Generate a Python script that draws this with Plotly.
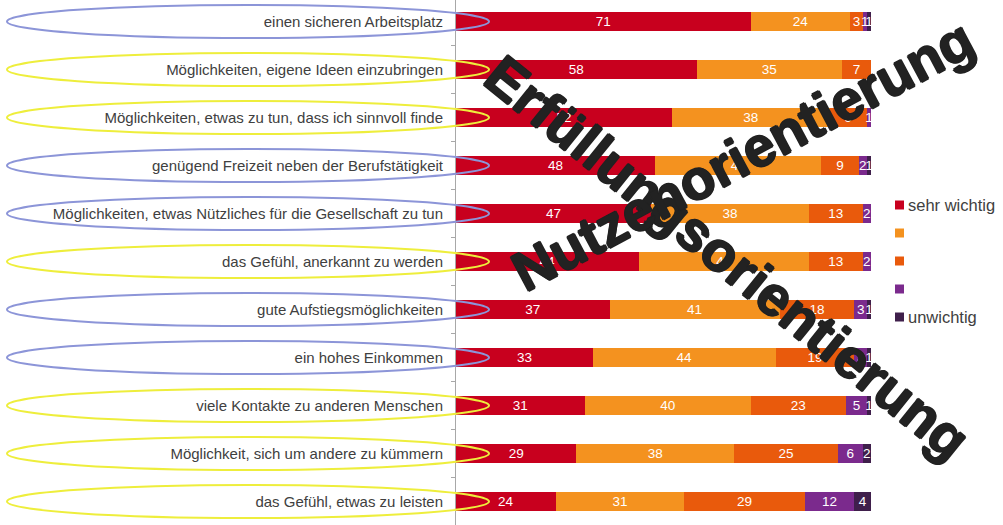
import plotly.graph_objects as go

# --- data -------------------------------------------------------------
categories = [
    "einen sicheren Arbeitsplatz",
    "Möglichkeiten, eigene Ideen einzubringen",
    "Möglichkeiten, etwas zu tun, dass ich sinnvoll finde",
    "genügend Freizeit neben der Berufstätigkeit",
    "Möglichkeiten, etwas Nützliches für die Gesellschaft zu tun",
    "das Gefühl, anerkannt zu werden",
    "gute Aufstiegsmöglichkeiten",
    "ein hohes Einkommen",
    "viele Kontakte zu anderen Menschen",
    "Möglichkeit, sich um andere zu kümmern",
    "das Gefühl, etwas zu leisten",
]
sehr_wichtig = [71, 58, 52, 48, 47, 44, 37, 33, 31, 29, 24]
stufe_2 = [24, 35, 38, 40, 38, 41, 41, 44, 40, 38, 31]
stufe_3 = [3, 7, 9, 9, 13, 13, 18, 19, 23, 25, 29]
stufe_4 = [1, 0, 1, 2, 2, 2, 3, 3, 5, 6, 12]
unwichtig = [1, 0, 0, 1, 0, 0, 1, 1, 1, 2, 4]

legend_labels = ["sehr wichtig", "", "", "", "unwichtig"]
series = [sehr_wichtig, stufe_2, stufe_3, stufe_4, unwichtig]
colors = ["#c8001e", "#f4921f", "#e95a0c", "#7b2a8d", "#3f1f4b"]

# which orientation each item belongs to (ellipse colour)
orientierung = ["Nutzen", "Erfüllung", "Erfüllung", "Nutzen", "Nutzen", "Erfüllung",
                "Nutzen", "Nutzen", "Erfüllung", "Erfüllung", "Erfüllung"]
ellipse_colors = {"Nutzen": "#8c95d8", "Erfüllung": "#eeee3c"}

overlay_titles = ["Erfüllungsorientierung", "Nutzenorientierung"]

# --- layout geometry (pixels) -----------------------------------------
W, H = 1003, 525
PLOT_L, PLOT_R = 456, 871
ROW0, ROW_STEP = 21.5, 48.0


def px_x(px):
    return (px - PLOT_L) / (PLOT_R - PLOT_L)


def px_y(py):
    return 1 - py / H


fig = go.Figure()
for name, vals, col in zip(legend_labels, series, colors):
    fig.add_trace(go.Bar(
        y=categories, x=vals, orientation="h", name=name,
        marker=dict(color=col, line=dict(width=0)),
        text=[str(v) if v > 0 else "" for v in vals],
        textposition="inside", insidetextanchor="middle",
        textangle=0, constraintext="none",
        textfont=dict(color="#ffffff", size=13.5, family="Liberation Sans, Arial"),
        showlegend=False,
    ))

shapes = []
annotations = []

# ellipses around the item labels
for i, grp in enumerate(orientierung):
    shapes.append(dict(
        type="circle", xref="paper", yref="y",
        x0=px_x(7), x1=px_x(489),
        y0=i - 16.5 / ROW_STEP, y1=i + 16.5 / ROW_STEP,
        line=dict(color=ellipse_colors[grp], width=2),
        layer="above",
    ))

# legend: small squares with labels
for k, (lab, col) in enumerate(zip(legend_labels, colors)):
    cy = 205 + 28 * k
    shapes.append(dict(
        type="rect", xref="paper", yref="paper",
        x0=px_x(895), x1=px_x(904), y0=px_y(cy + 4.5), y1=px_y(cy - 4.5),
        fillcolor=col, line=dict(width=0),
    ))
    if lab:
        annotations.append(dict(
            xref="paper", yref="paper", x=px_x(906), y=px_y(cy),
            xanchor="left", yanchor="middle", text=lab, showarrow=False,
            font=dict(size=16.5, color="#404040", family="Liberation Sans, Arial"),
        ))

# large diagonal overlay titles (extra outline for a heavier stroke)
heavy = ("1px 0 0 #222222, -1px 0 0 #222222, 0 1px 0 #222222, "
         "0 -1px 0 #222222")
annotations.append(dict(
    xref="paper", yref="paper", x=px_x(728), y=px_y(257),
    xanchor="center", yanchor="middle", text=overlay_titles[0], showarrow=False,
    textangle=39,
    font=dict(size=56, color="#222222", family="Liberation Sans, Arial",
              weight="bold", shadow=heavy),
))
annotations.append(dict(
    xref="paper", yref="paper", x=px_x(742), y=px_y(155),
    xanchor="center", yanchor="middle", text=overlay_titles[1], showarrow=False,
    textangle=-28,
    font=dict(size=56, color="#222222", family="Liberation Sans, Arial",
              weight="bold", shadow=heavy),
))

top = -ROW0 / ROW_STEP
bottom = top + H / ROW_STEP

fig.update_layout(
    width=W, height=H,
    margin=dict(l=PLOT_L, r=W - PLOT_R, t=0, b=0, pad=0),
    barmode="stack", bargap=0.6,
    plot_bgcolor="white", paper_bgcolor="white",
    xaxis=dict(range=[0, 100], visible=False, fixedrange=True),
    yaxis=dict(
        type="category", categoryorder="array", categoryarray=categories,
        range=[bottom, top],
        showline=True, linecolor="#a8a8a8", linewidth=1,
        ticks="outside", ticklen=4, tickcolor="#a8a8a8", tickson="boundaries",
        showgrid=False, zeroline=False,
        tickfont=dict(size=15, color="#404040", family="Liberation Sans, Arial"),
        ticklabelstandoff=9,
    ),
    shapes=shapes,
    annotations=annotations,
    showlegend=False,
)

fig.write_html("out.html")
